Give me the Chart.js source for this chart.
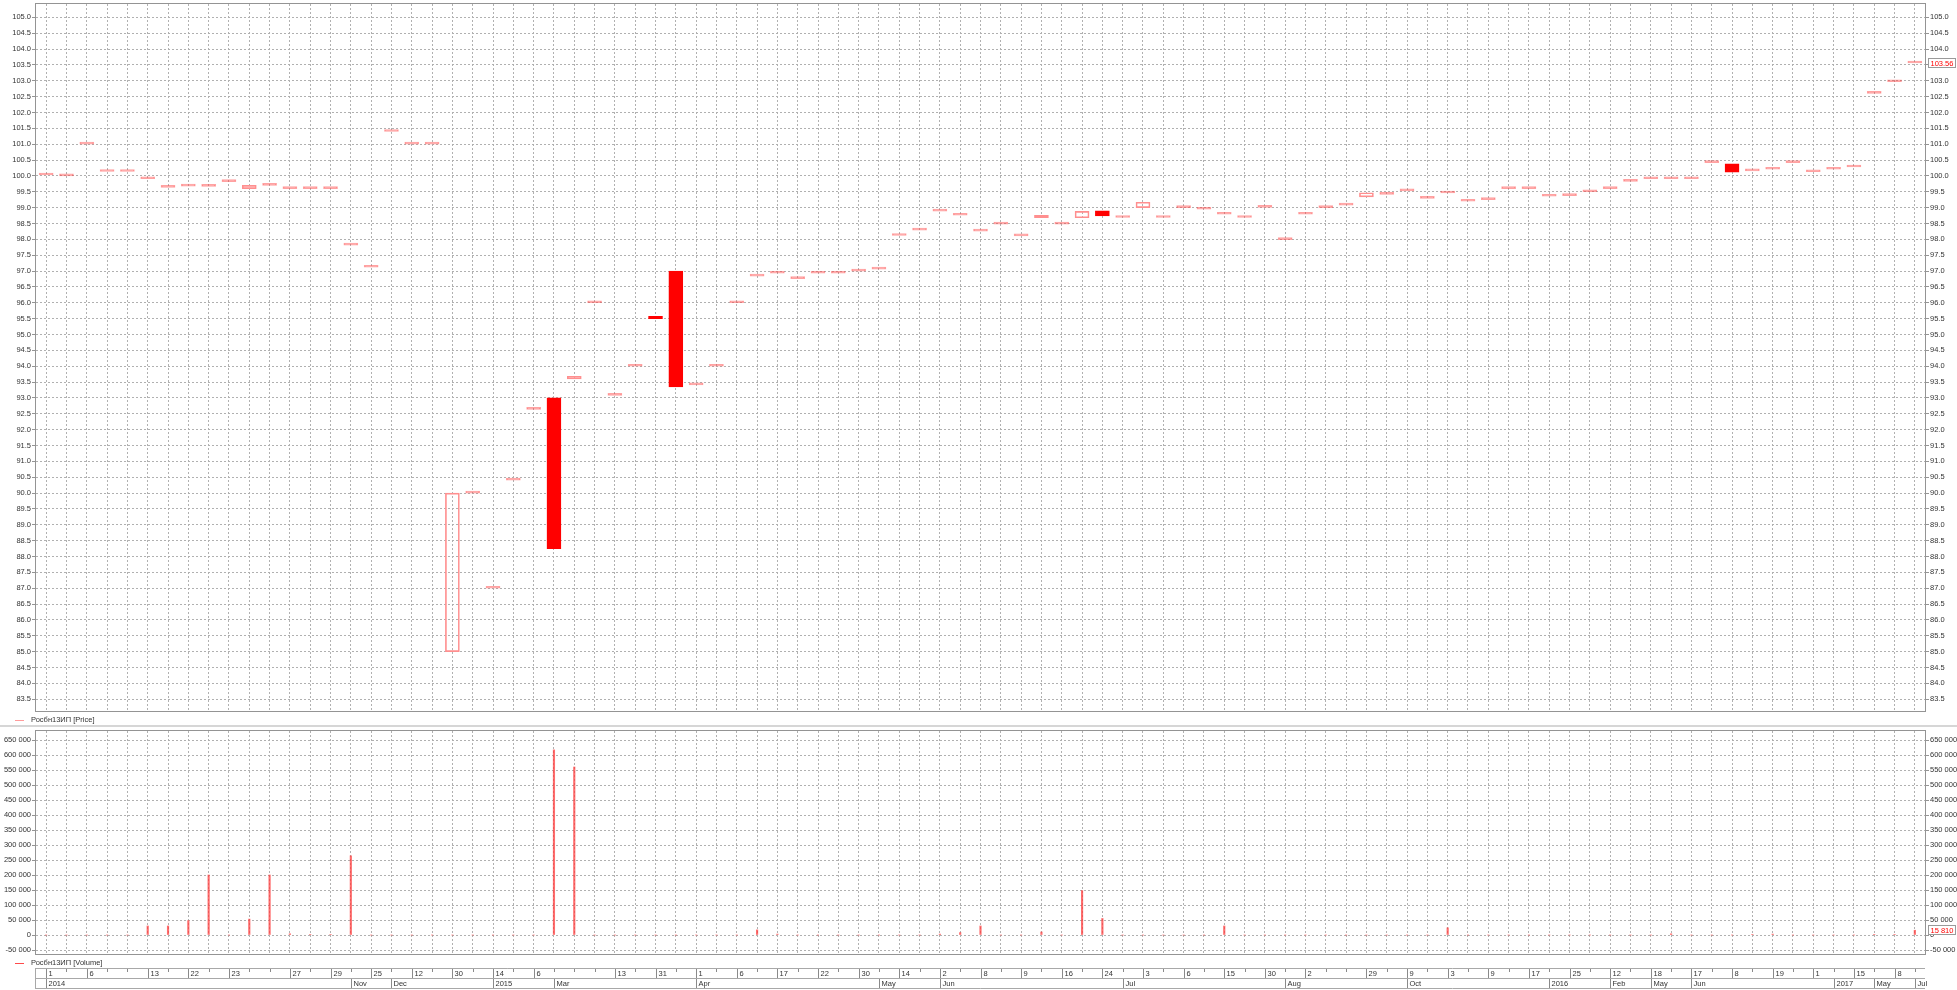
<!DOCTYPE html>
<html lang="ru">
<head>
<meta charset="UTF-8">
<title>Росбн13ИП</title>
<script src="https://cdn.jsdelivr.net/npm/chart.js"></script>
<style>
    body { margin: 0; background: #fff; width: 1957px; height: 990px; overflow: hidden; position: relative;
           font-family: "Liberation Sans", Arial, sans-serif; }
    canvas { position: absolute; left: 0; }
    #priceCanvas { top: 0; }
    #volumeCanvas { top: 725px; }
    .legend { position: absolute; left: 15px; font-size: 7.5px; color: #333; line-height: 10px; white-space: nowrap; }
    .legend .mark { display: inline-block; width: 9px; height: 1px; vertical-align: middle; margin-right: 7px; }
</style>
</head>
<body>

<canvas id="priceCanvas" width="1957" height="725"></canvas>
<canvas id="volumeCanvas" width="1957" height="265"></canvas>
<div class="legend" style="top:715px"><span class="mark" style="background:#ff9c9c"></span>Росбн13ИП [Price]</div>
<div class="legend" style="top:958px"><span class="mark" style="background:#ff4a4a"></span>Росбн13ИП [Volume]</div>

<script>
// candle values, one per session (no wicks in the picture, high/low = body)
const openPrice = [
    100.03, 100.00, 101.00, 100.14, 100.14, 99.91, 99.64, 99.68, 99.67, 99.82,
    99.60, 99.70, 99.60, 99.60, 99.60, 97.82, 97.12, 101.40, 101.00, 101.00,
    85.00, 90.00, 87.00, 90.41, 92.64, 93.00, 93.60, 96.00, 93.08, 94.00,
    95.57, 97.00, 93.41, 94.00, 96.00, 96.84, 96.93, 96.76, 96.93, 96.93,
    97.00, 97.06, 98.12, 98.29, 98.89, 98.76, 98.26, 98.48, 98.11, 98.68,
    98.48, 98.68, 98.90, 98.69, 99.00, 98.69, 99.00, 98.95, 98.79, 98.69,
    99.01, 97.99, 98.79, 99.00, 99.08, 99.34, 99.42, 99.53, 99.29, 99.46,
    99.20, 99.25, 99.60, 99.60, 99.36, 99.38, 99.50, 99.60, 99.83, 99.91,
    99.91, 99.91, 100.42, 100.38, 100.16, 100.21, 100.42, 100.13, 100.21, 100.28,
    102.60, 102.97, 103.56
];
const closePrice = [
    100.03, 100.00, 101.00, 100.14, 100.14, 99.91, 99.64, 99.68, 99.67, 99.82,
    99.70, 99.70, 99.60, 99.60, 99.60, 97.82, 97.12, 101.40, 101.00, 101.00,
    90.00, 90.00, 87.00, 90.41, 92.64, 88.25, 93.68, 96.00, 93.08, 94.00,
    95.50, 93.35, 93.41, 94.00, 96.00, 96.84, 96.93, 96.76, 96.93, 96.93,
    97.00, 97.06, 98.12, 98.29, 98.89, 98.76, 98.26, 98.48, 98.11, 98.76,
    98.48, 98.88, 98.74, 98.69, 99.17, 98.69, 99.00, 98.95, 98.79, 98.69,
    99.01, 97.99, 98.79, 99.00, 99.08, 99.47, 99.42, 99.53, 99.29, 99.46,
    99.20, 99.25, 99.60, 99.60, 99.36, 99.38, 99.50, 99.60, 99.83, 99.91,
    99.91, 99.91, 100.42, 100.12, 100.16, 100.21, 100.42, 100.13, 100.21, 100.28,
    102.60, 102.97, 103.56
];
const volume = [
    0, 0, 0, 0, 0, 30000, 30000, 48000, 200000, 0,
    53000, 200000, 4000, 2000, 2000, 264000, 0, 0, 0, 0,
    0, 0, 0, 0, 0, 617000, 560000, 0, 0, 0,
    0, 0, 0, 0, 0, 17000, 3000, 0, 0, 0,
    0, 0, 0, 0, 3000, 8000, 30000, 0, 0, 10000,
    0, 148000, 55000, 0, 0, 0, 0, 0, 30000, 0,
    0, 0, 0, 0, 0, 0, 0, 0, 0, 24000,
    0, 0, 0, 0, 0, 0, 0, 0, 0, 0,
    4000, 0, 0, 0, 2000, 3000, 0, 0, 0, 0,
    2000, 2000, 15810
];
// date axis: [session index, label]
const dayTicks = [
    [0, '1'], [2, '6'], [5, '13'], [7, '22'], [9, '23'], [12, '27'], [14, '29'], [16, '25'],
    [18, '12'], [20, '30'], [22, '14'], [24, '6'], [28, '13'], [30, '31'], [32, '1'], [34, '6'],
    [36, '17'], [38, '22'], [40, '30'], [42, '14'], [44, '2'], [46, '8'], [48, '9'], [50, '16'],
    [52, '24'], [54, '3'], [56, '6'], [58, '15'], [60, '30'], [62, '2'], [65, '29'], [67, '9'],
    [69, '3'], [71, '9'], [73, '17'], [75, '25'], [77, '12'], [79, '18'], [81, '17'], [83, '8'],
    [85, '19'], [87, '1'], [89, '15'], [91, '8']
];
const monthTicks = [
    [0, '2014'], [15, 'Nov'], [17, 'Dec'], [22, '2015'], [25, 'Mar'], [32, 'Apr'], [41, 'May'],
    [44, 'Jun'], [53, 'Jul'], [61, 'Aug'], [67, 'Oct'], [74, '2016'], [77, 'Feb'], [79, 'May'],
    [81, 'Jun'], [88, '2017'], [90, 'May'], [92, 'Jul']
];
// value axis ticks
const priceTicks = Array.from({ length: 44 }, (_, k) => 83.5 + k * 0.5);
const volTicks = [-50000, 0, 50000, 100000, 150000, 200000, 250000, 300000, 350000,
                  400000, 450000, 500000, 550000, 600000, 650000];
const categories = openPrice.map((_, i) => String(i));

const priceMin = 83.13, priceMax = 105.42;
const volMin = -63333, volMax = 680000;

Chart.defaults.font.family = '"Liberation Sans", Arial, sans-serif';
Chart.defaults.font.size = 7.5;
Chart.defaults.color = '#333';

const GRID = '#b0b0b0';
const FRAME = '#949494';

function fixWidth(w) {
    return function (scale) {
        scale.width = w;
        scale.paddingTop = 0;
        scale.paddingBottom = 0;
    };
}
function hideX(scale) {
    scale.height = 0;
    scale.paddingLeft = 0;
    scale.paddingRight = 0;
}
function setTicks(values) {
    return function (scale) {
        scale.ticks = values.map(v => ({ value: v }));
    };
}
function fmtVol(v) {
    return (v < 0 ? '-' : '') + String(Math.abs(Math.round(v))).replace(/\B(?=(\d{3})+(?!\d))/g, ' ');
}

// candle colours: filled = down, hollow = up, flat = a short line
function candleFill(ctx) {
    const r = ctx.raw;
    if (!r) return 'transparent';
    if (r[1] < r[0] - 0.001) return '#ff0000';
    if (r[1] > r[0] + 0.001) return 'rgba(255,255,255,0)';
    return 'rgba(255,70,70,0.5)';
}
function candleEdge(ctx) {
    const r = ctx.raw;
    if (!r) return 'transparent';
    if (r[1] < r[0] - 0.001) return '#ff0000';
    if (r[1] > r[0] + 0.001) return '#ff8f8f';
    return 'rgba(255,70,70,0.5)';
}

const framePlugin = {
    id: 'frame',
    afterDraw(chart) {
        const a = chart.chartArea, c = chart.ctx;
        c.save();
        c.strokeStyle = FRAME;
        c.lineWidth = 1;
        c.strokeRect(a.left - 0.5, a.top - 0.5, a.right - a.left + 1, a.bottom - a.top + 1);
        c.restore();
    }
};

function lastValuePlugin(id, scaleId, value, text) {
    return {
        id: id,
        afterDraw(chart) {
            const c = chart.ctx, s = chart.scales[scaleId];
            const y = Math.round(s.getPixelForValue(value));
            const x = chart.chartArea.right + 3;
            c.save();
            c.font = '7.5px "Liberation Sans", Arial, sans-serif';
            const w = Math.ceil(c.measureText(text).width) + 4;
            c.fillStyle = '#fff';
            c.fillRect(x, y - 5, w, 10);
            c.strokeStyle = '#9a9a9a';
            c.strokeRect(x + 0.5, y - 4.5, w, 9);
            c.fillStyle = '#ff0000';
            c.textBaseline = 'middle';
            c.fillText(text, x + 2.5, y + 0.5);
            c.restore();
        }
    };
}

const panelSeparator = {
    id: 'panelSeparator',
    beforeDraw(chart) {
        const c = chart.ctx;
        c.save();
        c.fillStyle = '#d6d6d6';
        c.fillRect(0, 0, chart.width, 2);
        c.restore();
    }
};

const dateAxisPlugin = {
    id: 'dateAxis',
    afterDraw(chart) {
        const c = chart.ctx, xs = chart.scales.x, a = chart.chartArea;
        const top = a.bottom + 14, mid = top + 10, bot = mid + 10;
        const line = (x1, y1, x2, y2) => { c.beginPath(); c.moveTo(x1, y1); c.lineTo(x2, y2); c.stroke(); };
        const px = i => Math.round(xs.getPixelForValue(i)) + 0.5;
        c.save();
        c.lineWidth = 1;
        c.strokeStyle = '#a8a8a8';
        line(a.left - 0.5, top + 0.5, a.right, top + 0.5);
        line(a.left - 0.5, mid + 0.5, a.right, mid + 0.5);
        line(a.left - 0.5, bot + 0.5, a.right, bot + 0.5);
        line(a.left - 0.5, top, a.left - 0.5, bot + 1);
        c.strokeStyle = '#8a8a8a';
        const labelled = new Set(dayTicks.map(d => d[0]));
        categories.forEach((_, i) => {
            if (!labelled.has(i)) line(px(i), top + 1, px(i), top + 4);
        });
        c.fillStyle = '#333';
        c.font = '7.5px "Liberation Sans", Arial, sans-serif';
        c.textBaseline = 'middle';
        dayTicks.forEach(([i, t]) => {
            line(px(i), top + 1, px(i), mid);
            c.fillText(t, px(i) + 2, top + 5.5);
        });
        monthTicks.forEach(([i, t]) => {
            line(px(i), mid + 1, px(i), bot);
            c.fillText(t, px(i) + 2, mid + 5.5);
        });
        c.restore();
    }
};

function xAxis() {
    return {
        offset: true,
        grid: { offset: false, color: GRID, drawTicks: false, lineWidth: 1 },
        border: { display: false, dash: [2, 2] },
        ticks: { display: false },
        afterFit: hideX
    };
}

function yAxis(position, min, max, tickValues, fmt, width, drawGrid) {
    return {
        position: position,
        min: min,
        max: max,
        ticks: { padding: 1, autoSkip: false, color: '#333', callback: v => fmt(v) },
        grid: { drawOnChartArea: drawGrid, color: GRID, tickColor: FRAME, tickLength: 4 },
        border: { display: false, dash: [2, 2] },
        afterBuildTicks: setTicks(tickValues),
        afterFit: fixWidth(width)
    };
}

new Chart(document.getElementById('priceCanvas'), {
    type: 'bar',
    data: {
        labels: categories,
        datasets: [{
            label: 'Росбн13ИП [Price]',
            data: openPrice.map((o, i) => [o, closePrice[i]]),
            barThickness: 14,
            borderWidth: 1,
            borderSkipped: false,
            minBarLength: 2,
            backgroundColor: candleFill,
            borderColor: candleEdge
        }]
    },
    options: {
        responsive: false,
        animation: false,
        devicePixelRatio: 1,
        layout: { padding: { top: 4, bottom: 14, left: 0, right: 0 } },
        plugins: { legend: { display: false }, tooltip: { enabled: false } },
        scales: {
            x: xAxis(),
            y: yAxis('left', priceMin, priceMax, priceTicks, v => v.toFixed(1), 36, true),
            y2: yAxis('right', priceMin, priceMax, priceTicks, v => v.toFixed(1), 32, false)
        }
    },
    plugins: [framePlugin,
        lastValuePlugin('lastPrice', 'y2', closePrice[closePrice.length - 1], closePrice[closePrice.length - 1].toFixed(2))]
});

new Chart(document.getElementById('volumeCanvas'), {
    type: 'bar',
    data: {
        labels: categories,
        datasets: [{
            label: 'Росбн13ИП [Volume]',
            data: volume,
            barThickness: 1.5,
            borderWidth: 0,
            backgroundColor: 'rgba(255,60,60,0.75)'
        }]
    },
    options: {
        responsive: false,
        animation: false,
        devicePixelRatio: 1,
        layout: { padding: { top: 6, bottom: 36, left: 0, right: 0 } },
        plugins: { legend: { display: false }, tooltip: { enabled: false } },
        scales: {
            x: xAxis(),
            y: yAxis('left', volMin, volMax, volTicks, fmtVol, 36, true),
            y2: yAxis('right', volMin, volMax, volTicks, fmtVol, 32, false)
        }
    },
    plugins: [panelSeparator, framePlugin, dateAxisPlugin,
        lastValuePlugin('lastVolume', 'y2', volume[volume.length - 1], fmtVol(volume[volume.length - 1]))]
});
</script>

</body>
</html>
